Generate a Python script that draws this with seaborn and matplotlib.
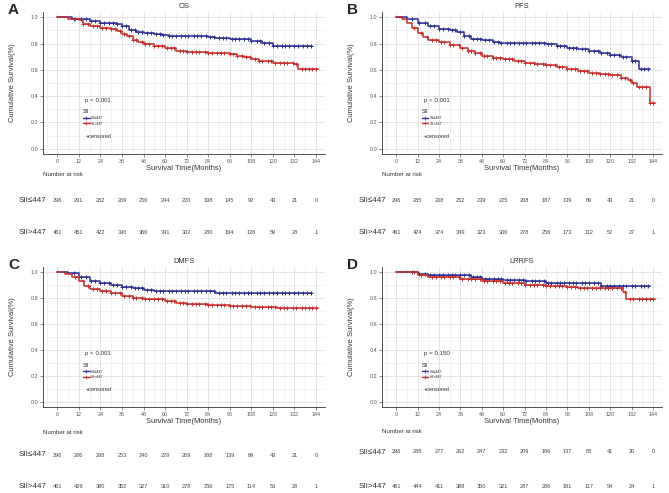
import numpy as np
import pandas as pd
import matplotlib
matplotlib.use('Agg')
import matplotlib.pyplot as plt
from matplotlib.lines import Line2D
from matplotlib.ticker import MultipleLocator, FormatStrFormatter
import seaborn as sns

sns.set_theme(style='white')
plt.rcParams['font.family'] = ['Liberation Sans', 'DejaVu Sans']

BLUE = '#2E3192'
RED = '#C62F2B'
groups = ['SII\u2264447', 'SII>447']
risk_times = [0, 12, 24, 36, 48, 60, 72, 84, 96, 108, 120, 132, 144]

# step points (months, survival)
os_low_t = [0, 8, 12, 18, 24, 30, 33, 36, 40, 44, 48, 54, 58, 62, 84, 88, 96, 106, 108, 114, 120, 142]
os_low_s = [1.0, 0.99, 0.985, 0.97, 0.96, 0.955, 0.945, 0.93, 0.90, 0.89, 0.88, 0.875, 0.865, 0.855, 0.85, 0.84, 0.838, 0.835, 0.82, 0.805, 0.785, 0.785]
os_high_t = [0, 6, 12, 14, 18, 24, 30, 33, 36, 39, 42, 45, 48, 54, 60, 66, 72, 84, 96, 100, 104, 108, 112, 116, 120, 132, 134, 145]
os_high_s = [1.0, 0.99, 0.98, 0.95, 0.935, 0.92, 0.91, 0.895, 0.875, 0.855, 0.83, 0.815, 0.80, 0.785, 0.765, 0.745, 0.735, 0.73, 0.72, 0.705, 0.695, 0.685, 0.67, 0.665, 0.65, 0.645, 0.605, 0.605]

pfs_low_t = [0, 6, 12, 18, 24, 30, 34, 38, 42, 48, 54, 58, 72, 84, 90, 96, 102, 108, 114, 120, 126, 132, 136, 142]
pfs_low_s = [1.0, 0.985, 0.96, 0.93, 0.91, 0.90, 0.885, 0.855, 0.835, 0.825, 0.815, 0.805, 0.805, 0.80, 0.78, 0.77, 0.76, 0.745, 0.73, 0.715, 0.695, 0.665, 0.61, 0.61]
pfs_high_t = [0, 3, 6, 9, 12, 15, 18, 24, 30, 36, 40, 44, 48, 54, 60, 66, 72, 78, 84, 90, 96, 102, 108, 114, 120, 126, 130, 132, 135, 142, 145]
pfs_high_s = [1.0, 0.99, 0.96, 0.92, 0.88, 0.85, 0.83, 0.81, 0.79, 0.77, 0.745, 0.725, 0.705, 0.69, 0.68, 0.67, 0.655, 0.645, 0.635, 0.625, 0.61, 0.59, 0.575, 0.565, 0.56, 0.535, 0.525, 0.50, 0.47, 0.35, 0.35]

dmfs_low_t = [0, 6, 12, 18, 24, 30, 36, 42, 48, 54, 84, 88, 142]
dmfs_low_s = [1.0, 0.99, 0.96, 0.935, 0.92, 0.905, 0.885, 0.875, 0.865, 0.855, 0.855, 0.842, 0.842]
dmfs_high_t = [0, 4, 8, 12, 15, 18, 24, 30, 36, 42, 48, 60, 66, 72, 84, 96, 108, 122, 145]
dmfs_high_s = [1.0, 0.985, 0.96, 0.93, 0.89, 0.87, 0.855, 0.84, 0.815, 0.80, 0.79, 0.775, 0.765, 0.755, 0.745, 0.74, 0.735, 0.72, 0.72]

lrrfs_low_t = [0, 12, 18, 36, 42, 48, 60, 72, 84, 96, 108, 115, 142]
lrrfs_low_s = [1.0, 0.985, 0.975, 0.975, 0.96, 0.945, 0.94, 0.93, 0.92, 0.915, 0.915, 0.895, 0.895]
lrrfs_high_t = [0, 12, 18, 30, 36, 48, 60, 72, 84, 96, 102, 127, 129, 145]
lrrfs_high_s = [1.0, 0.98, 0.965, 0.96, 0.95, 0.935, 0.92, 0.905, 0.895, 0.885, 0.875, 0.845, 0.79, 0.79]

# censoring times (months)
cens_low = [9, 13, 16, 19, 21, 24, 26, 29, 31, 33, 36, 38, 41, 43, 45, 47, 50, 52, 55, 57, 59, 62, 64, 66,
            69, 71, 73, 76, 78, 80, 83, 85, 87, 90, 92, 94, 97, 99, 101, 104, 106, 108, 111, 113, 115,
            118, 120, 122, 125, 127, 129, 132, 134, 137, 139, 141]
cens_high = [10, 14, 17, 20, 22, 25, 27, 30, 32, 35, 37, 40, 42, 44, 47, 49, 51, 54, 56, 58, 61, 63, 65,
             68, 70, 72, 75, 77, 79, 82, 84, 86, 89, 91, 93, 96, 98, 100, 103, 105, 107, 110, 112, 114,
             117, 119, 121, 124, 126, 128, 131, 133, 136, 138, 140, 142, 144]

# number at risk
os_risk_low = [296, 291, 282, 269, 256, 244, 220, 198, 145, 92, 43, 21, 0]
os_risk_high = [461, 451, 422, 396, 366, 341, 302, 280, 194, 126, 59, 28, 1]
pfs_risk_low = [296, 285, 268, 252, 239, 225, 208, 187, 139, 89, 43, 21, 0]
pfs_risk_high = [461, 424, 374, 349, 323, 306, 278, 256, 173, 112, 52, 27, 1]
dmfs_risk_low = [296, 286, 268, 253, 240, 229, 209, 188, 139, 89, 43, 21, 0]
dmfs_risk_high = [461, 429, 380, 352, 327, 310, 278, 256, 175, 114, 53, 28, 1]
lrrfs_risk_low = [296, 288, 277, 262, 247, 232, 209, 186, 137, 88, 41, 20, 0]
lrrfs_risk_high = [461, 444, 411, 388, 350, 321, 287, 266, 181, 117, 54, 24, 1]

W, H = 669, 493
fig = plt.figure(figsize=(W / 100, H / 100), dpi=100)


def px_axes(left, top, right, bottom):
    return fig.add_axes([left / W, 1 - bottom / H, (right - left) / W, (bottom - top) / H])


def draw_panel(letter, title, pval, curves, risks, box, table_rows, label_x):
    left, top, right, bottom = box
    ax = px_axes(left, top, right, bottom)
    frames = []
    for g, (t, s) in zip(groups, curves):
        frames.append(pd.DataFrame({'time': t, 'surv': s, 'group': g}))
    df = pd.concat(frames, ignore_index=True)
    sns.lineplot(data=df, x='time', y='surv', hue='group', palette=[BLUE, RED],
                 drawstyle='steps-post', estimator=None, sort=False, lw=1.1, ax=ax, legend=False)
    # censor marks
    for (t, s), cens, col in zip(curves, [cens_low, cens_high], [BLUE, RED]):
        ct = np.array([c for c in cens if c < t[-1]])
        idx = np.searchsorted(np.array(t), ct, side='right') - 1
        cs = np.array(s)[idx]
        sns.scatterplot(x=ct, y=cs, marker='+', color=col, s=11, linewidth=0.7, ax=ax, legend=False)

    ax.set_xlim(-8, 149)
    ax.set_ylim(-0.04, 1.04)
    ax.xaxis.set_major_locator(MultipleLocator(12))
    ax.xaxis.set_minor_locator(MultipleLocator(6))
    ax.yaxis.set_major_locator(MultipleLocator(0.2))
    ax.yaxis.set_minor_locator(MultipleLocator(0.1))
    ax.yaxis.set_major_formatter(FormatStrFormatter('%.1f'))
    ax.grid(which='major', color='#D9D9D9', lw=0.5)
    ax.grid(which='minor', color='#E8E8E8', lw=0.4)
    ax.set_axisbelow(True)
    for sp in ['top', 'right']:
        ax.spines[sp].set_visible(False)
    for sp in ['left', 'bottom']:
        ax.spines[sp].set_color('#333333')
        ax.spines[sp].set_linewidth(0.6)
    ax.tick_params(which='major', labelsize=3.9, length=2, width=0.4, pad=1.5, colors='#333333',
                   labelcolor='#555555', bottom=True, left=True)
    ax.tick_params(which='minor', length=0)
    ax.set_xlabel('Survival Time(Months)', fontsize=5.4, labelpad=0.5, color='#333333')
    ax.set_ylabel('Cumulative Survival(%)', fontsize=5.4, labelpad=10, color='#333333')
    ax.set_title(title, fontsize=5.4, pad=3, color='#333333')

    # inner legend
    ax.text(0.15, 0.38, pval, transform=ax.transAxes, fontsize=4.4, color='#333333', va='center')
    handles = [Line2D([0], [0], color=BLUE, lw=1.0, marker='+', ms=2.5, mew=0.5),
               Line2D([0], [0], color=RED, lw=1.0, marker='+', ms=2.5, mew=0.5)]
    leg = ax.legend(handles, groups, title='SII', loc='upper left', bbox_to_anchor=(0.135, 0.33),
                    frameon=False, fontsize=2.6, title_fontsize=3.8, handlelength=1.8,
                    handletextpad=0.4, labelspacing=0.45, borderpad=0.1)
    leg._legend_box.align = 'left'
    ax.text(0.15, 0.125, '+censored', transform=ax.transAxes, fontsize=4.0, color='#333333', va='center')

    fig.text((left - 35) / W, 1 - (top - 2) / H, letter, fontsize=11, fontweight='bold', va='center', ha='left')

    # number at risk table
    y_title, y1, y2 = table_rows
    tab = px_axes(left, y_title - 8, right, y2 + 8)
    tab.set_xlim(ax.get_xlim())
    tab.set_ylim(y2 + 8, y_title - 8)
    tab.axis('off')
    tab.text(-8, y_title, 'Number at risk', fontsize=4.4, color='#333333', va='center', ha='left')
    for yy, vals, g in [(y1, risks[0], groups[0]), (y2, risks[1], groups[1])]:
        fig.text(label_x / W, 1 - yy / H, g, fontsize=5.8, color='#333333', va='center', ha='left')
        for t, v in zip(risk_times, vals):
            tab.text(t, yy, str(v), fontsize=4.1, color='#444444', va='center', ha='center')
    return ax


draw_panel('A', 'OS', 'p < 0.001', [(os_low_t, os_low_s), (os_high_t, os_high_s)],
           [os_risk_low, os_risk_high], (43, 12, 325, 154), (175, 200, 232), 19)
draw_panel('B', 'PFS', 'p < 0.001', [(pfs_low_t, pfs_low_s), (pfs_high_t, pfs_high_s)],
           [pfs_risk_low, pfs_risk_high], (382, 12, 662, 154), (175, 200, 232), 359)
draw_panel('C', 'DMFS', 'p < 0.001', [(dmfs_low_t, dmfs_low_s), (dmfs_high_t, dmfs_high_s)],
           [dmfs_risk_low, dmfs_risk_high], (43, 267, 325, 407), (432, 455, 486), 19)
draw_panel('D', 'LRRFS', 'p = 0.150', [(lrrfs_low_t, lrrfs_low_s), (lrrfs_high_t, lrrfs_high_s)],
           [lrrfs_risk_low, lrrfs_risk_high], (382, 267, 662, 407), (432, 452, 487), 359)

fig.savefig('out.png', dpi=100)
